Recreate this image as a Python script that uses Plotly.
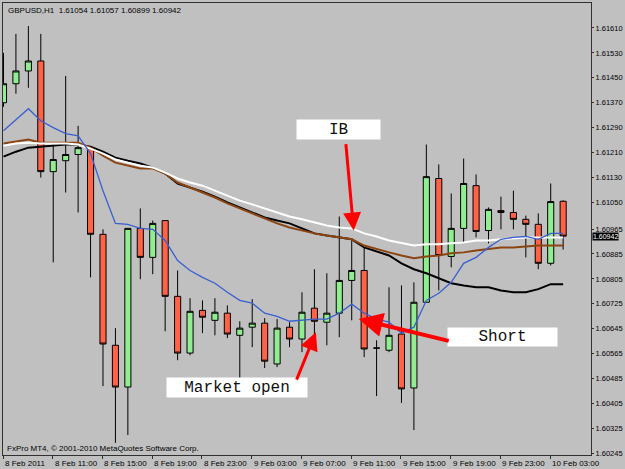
import plotly.graph_objects as go

# Bar index i = 8 Feb 2011 07:00 + i hours (H1 bars)
bar_idx = list(range(46))

open_ = [1.61370, 1.61431, 1.61472, 1.61504, 1.61149, 1.61184, 1.61204, 1.61226, 1.60948, 1.60592,
         1.60458, 1.60967, 1.60874, 1.60992, 1.60749, 1.60567, 1.60704, 1.60672, 1.60695, 1.60624,
         1.60650, 1.60663, 1.60532, 1.60650, 1.60612, 1.60711, 1.60666, 1.60695, 1.60800, 1.60832,
         1.60583, 1.60576, 1.60628, 1.60455, 1.60730, 1.61127, 1.60877, 1.60967, 1.61104, 1.60960,
         1.61024, 1.61018, 1.60996, 1.60980, 1.60855, 1.61054]
high = [1.61530, 1.61591, 1.61616, 1.61591, 1.61236, 1.61456, 1.61296, 1.61229, 1.60964, 1.60647,
        1.60967, 1.61031, 1.60992, 1.60992, 1.60832, 1.60743, 1.60736, 1.60743, 1.60720, 1.60669,
        1.60740, 1.60679, 1.60676, 1.60666, 1.60762, 1.60836, 1.60823, 1.61005, 1.60928, 1.60906,
        1.60608, 1.60778, 1.60784, 1.60794, 1.61236, 1.61172, 1.61079, 1.61191, 1.61140, 1.61034,
        1.61069, 1.61088, 1.61008, 1.61015, 1.61111, 1.61057]
low = [1.61357, 1.61399, 1.61418, 1.61130, 1.60858, 1.61082, 1.61018, 1.60810, 1.60461, 1.60279,
       1.60304, 1.60804, 1.60820, 1.60637, 1.60544, 1.60560, 1.60631, 1.60624, 1.60615, 1.60487,
       1.60586, 1.60519, 1.60522, 1.60586, 1.60570, 1.60624, 1.60592, 1.60618, 1.60672, 1.60554,
       1.60429, 1.60570, 1.60407, 1.60320, 1.60730, 1.60768, 1.60842, 1.60922, 1.60938, 1.60919,
       1.60964, 1.60964, 1.60874, 1.60836, 1.60848, 1.60899]
close = [1.61431, 1.61472, 1.61504, 1.61149, 1.61188, 1.61204, 1.61226, 1.60948, 1.60596, 1.60458,
         1.60967, 1.60874, 1.60983, 1.60749, 1.60567, 1.60701, 1.60682, 1.60698, 1.60628, 1.60647,
         1.60663, 1.60541, 1.60647, 1.60612, 1.60698, 1.60669, 1.60695, 1.60800, 1.60832, 1.60580,
         1.60583, 1.60624, 1.60452, 1.60730, 1.61133, 1.60880, 1.60967, 1.61111, 1.60957, 1.61028,
         1.61018, 1.60996, 1.60980, 1.60855, 1.61053, 1.60942]

ma_blue = [1.61280, 1.61316, 1.61351, 1.61312, 1.61290, 1.61271, 1.61264, 1.61207, 1.61088, 1.60983,
           1.60980, 1.60967, 1.60964, 1.60928, 1.60864, 1.60832, 1.60810, 1.60791, 1.60762, 1.60736,
           1.60727, 1.60695, 1.60685, 1.60669, 1.60672, 1.60676, 1.60676, 1.60695, 1.60724, 1.60695,
           1.60676, 1.60666, 1.60631, 1.60650, 1.60736, 1.60759, 1.60794, 1.60855, 1.60874, 1.60906,
           1.60932, 1.60938, 1.60941, 1.60932, 1.60951, 1.60951]
ma_white = [1.61232, 1.61239, 1.61242, 1.61239, 1.61239, 1.61239, 1.61236, 1.61223, 1.61207, 1.61188,
            1.61178, 1.61168, 1.61162, 1.61146, 1.61127, 1.61114, 1.61104, 1.61088, 1.61072, 1.61056,
            1.61044, 1.61031, 1.61018, 1.61005, 1.60996, 1.60986, 1.60976, 1.60970, 1.60967, 1.60951,
            1.60941, 1.60928, 1.60919, 1.60912, 1.60916, 1.60916, 1.60919, 1.60922, 1.60928, 1.60928,
            1.60932, 1.60935, 1.60938, 1.60938, 1.60938, 1.60938]
ma_brown = [1.61239, 1.61245, 1.61252, 1.61242, 1.61242, 1.61242, 1.61242, 1.61226, 1.61200, 1.61178,
            1.61168, 1.61159, 1.61159, 1.61143, 1.61114, 1.61098, 1.61082, 1.61066, 1.61047, 1.61031,
            1.61015, 1.60999, 1.60983, 1.60970, 1.60960, 1.60951, 1.60944, 1.60938, 1.60932, 1.60912,
            1.60900, 1.60890, 1.60880, 1.60871, 1.60877, 1.60880, 1.60887, 1.60890, 1.60896, 1.60900,
            1.60906, 1.60906, 1.60909, 1.60912, 1.60912, 1.60912]
ma_black = [1.61197, 1.61213, 1.61226, 1.61229, 1.61232, 1.61236, 1.61236, 1.61229, 1.61213, 1.61194,
            1.61184, 1.61175, 1.61162, 1.61143, 1.61111, 1.61098, 1.61085, 1.61069, 1.61050, 1.61034,
            1.61018, 1.61002, 1.60992, 1.60983, 1.60967, 1.60951, 1.60944, 1.60938, 1.60932, 1.60906,
            1.60893, 1.60880, 1.60855, 1.60836, 1.60823, 1.60807, 1.60791, 1.60784, 1.60778, 1.60778,
            1.60768, 1.60762, 1.60762, 1.60772, 1.60788, 1.60788]

x_tick_pos = [0, 4, 8, 12, 16, 20, 24, 28, 32, 36, 40, 44]
x_tick_labels = ["8 Feb 2011", "8 Feb 11:00", "8 Feb 15:00", "8 Feb 19:00", "8 Feb 23:00",
                 "9 Feb 03:00", "9 Feb 07:00", "9 Feb 11:00", "9 Feb 15:00", "9 Feb 19:00",
                 "9 Feb 23:00", "10 Feb 03:00"]
y_ticks = [1.61610, 1.61530, 1.61450, 1.61370, 1.61290, 1.61210, 1.61130, 1.61050, 1.60965,
           1.60885, 1.60805, 1.60725, 1.60645, 1.60565, 1.60485, 1.60405, 1.60325, 1.60245]
last_price = 1.60942
header = "GBPUSD,H1  1.61054 1.61057 1.60899 1.60942"
copyright_txt = "FxPro MT4, © 2001-2010 MetaQuotes Software Corp."

BG = "#c0c0c0"
FONT = "Liberation Sans"

fig = go.Figure()
fig.add_trace(go.Candlestick(
    x=bar_idx, open=open_, high=high, low=low, close=close,
    increasing=dict(fillcolor="#90ee90", line=dict(color="black", width=1)),
    decreasing=dict(fillcolor="#ff6347", line=dict(color="black", width=1)),
    whiskerwidth=0, hoverinfo="skip", showlegend=False))

for vals, col, w in [(ma_black, "#000000", 2), (ma_brown, "#8b4513", 2),
                     (ma_white, "#ffffff", 2), (ma_blue, "#3a5fd0", 1.3)]:
    fig.add_trace(go.Scatter(x=bar_idx, y=vals, mode="lines",
                             line=dict(color=col, width=w), hoverinfo="skip", showlegend=False))

ann = []
for p, t in zip(x_tick_pos, x_tick_labels):
    ann.append(dict(x=p - 0.04, y=0, xref="x", yref="paper", text=t, showarrow=False,
                    xanchor="left", yanchor="top", yshift=-2,
                    font=dict(family=FONT, size=8, color="black")))

ann.append(dict(x=0, y=1, xref="paper", yref="paper", text=header, showarrow=False,
                xanchor="left", yanchor="top", xshift=3, yshift=-1,
                font=dict(family=FONT, size=8, color="black")))
ann.append(dict(x=0, y=0, xref="paper", yref="paper", text=copyright_txt, showarrow=False,
                xanchor="left", yanchor="bottom", xshift=2, yshift=0,
                font=dict(family=FONT, size=8, color="black")))
ann.append(dict(x=1, y=last_price, xref="paper", yref="y", text="1.60942", showarrow=False,
                xanchor="left", yanchor="top", xshift=1, yshift=4, bgcolor="black", borderpad=0,
                font=dict(family=FONT, size=7, color="white")))

mono = dict(family="Liberation Mono", size=16, color="#111111")
# text boxes
ann.append(dict(x=26.96, y=1.61284, xref="x", yref="y", text="IB", showarrow=False,
                bgcolor="white", width=81, height=17, font=mono))
ann.append(dict(x=18.8, y=1.60458, xref="x", yref="y", text="Market open", showarrow=False,
                bgcolor="white", width=138, height=17, font=mono))
ann.append(dict(x=40.16, y=1.60618, xref="x", yref="y", text="Short", showarrow=False,
                bgcolor="white", width=107, height=16, font=mono))
# arrows
for (tx, ty, hx, hy, w) in [(27.52, 1.61242, 28.16, 1.60960, 3),
                            (23.52, 1.60477, 25.12, 1.60634, 3),
                            (35.92, 1.60605, 28.56, 1.60676, 4)]:
    ann.append(dict(x=hx, y=hy, ax=tx, ay=ty, xref="x", yref="y", axref="x", ayref="y",
                    text="", showarrow=True, arrowhead=2, arrowsize=1.2, arrowwidth=w,
                    arrowcolor="#ff0000", standoff=0, startstandoff=0))

fig.update_layout(
    width=625, height=469,
    margin=dict(l=2, r=32, t=2, b=14),
    paper_bgcolor=BG, plot_bgcolor=BG,
    annotations=ann,
    showlegend=False,
    xaxis=dict(range=[-0.04, 47.24], rangeslider=dict(visible=False), showgrid=False,
               zeroline=False, showline=True, mirror=True, linecolor="#303030", linewidth=1,
               tickvals=[p - 0.04 for p in x_tick_pos], ticks="outside", ticklen=3,
               tickcolor="#303030", showticklabels=False),
    yaxis=dict(range=[1.60240, 1.61690], side="right", showgrid=False, zeroline=False,
               showline=True, mirror=True, linecolor="#303030", linewidth=1,
               tickvals=y_ticks, tickformat=".5f", ticks="outside", ticklen=2,
               tickcolor="#303030",
               tickfont=dict(family=FONT, size=7.5, color="black")),
)

fig.write_html("out.html")
